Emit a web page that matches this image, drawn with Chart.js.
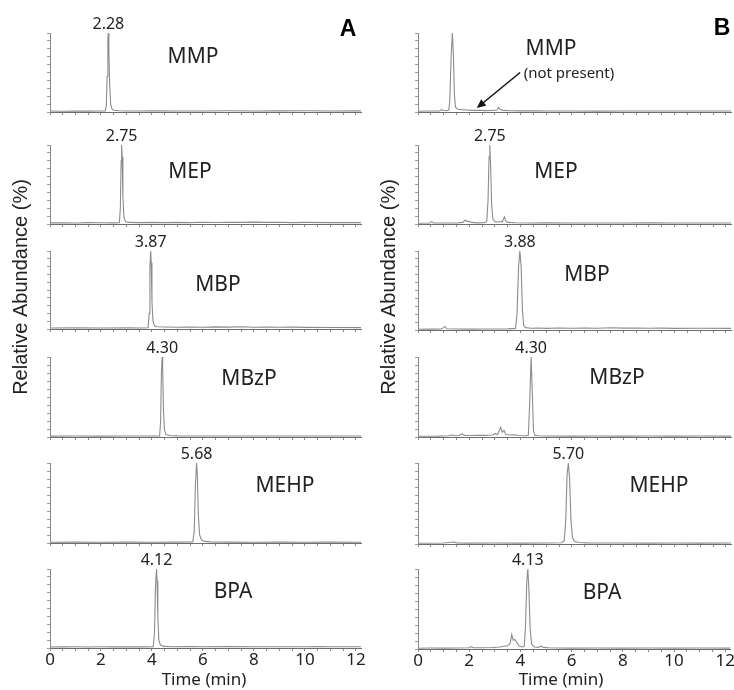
<!DOCTYPE html>
<html>
<head>
<meta charset="utf-8">
<script src="https://cdn.jsdelivr.net/npm/chart.js@4.4.1/dist/chart.umd.min.js"></script>
<style>
  html, body { margin: 0; padding: 0; background: #fff; }
  #wrap { position: relative; width: 734px; height: 690px; overflow: hidden; }
  #wrap canvas { position: absolute; left: 0; top: 0; }
</style>
</head>
<body>
<div id="wrap"></div>
<script>
// compounds, one panel each, top to bottom
const compounds = ['MMP', 'MEP', 'MBP', 'MBzP', 'MEHP', 'BPA'];
const peakLabelsA = ['2.28', '2.75', '3.87', '4.30', '5.68', '4.12'];
const peakLabelsB = [null, '2.75', '3.88', '4.30', '5.70', '4.13'];
const timeTicks = [0, 2, 4, 6, 8, 10, 12];

// chromatogram traces: [time (min), relative abundance (%)]
const A_MMP = [[0,1.2],[0.5,1.0],[1,1.3],[1.5,1.1],[2,1.2],[2.17,1.2],[2.21,8],[2.24,45],[2.27,92],[2.29,100],[2.31,80],[2.34,35],[2.38,10],[2.43,4],[2.5,2.2],[2.7,1.5],[3,1.3],[3.5,1.2],[4,1.4],[5,1.2],[6,1.3],[7,1.5],[8,1.3],[9,1.4],[10,1.6],[11,1.3],[12.2,1.4]];
const A_MEP = [[0,1.4],[0.5,1.6],[1,1.3],[1.5,1.7],[2,1.5],[2.5,1.4],[2.72,1.5],[2.76,20],[2.79,80],[2.81,100],[2.83,85],[2.86,35],[2.9,9],[2.96,3],[3.1,2],[3.5,1.8],[4,2],[4.5,1.7],[5,2.1],[5.5,1.8],[6,2.2],[6.5,1.9],[7,2.3],[7.5,2.0],[8,2.4],[8.5,2.0],[9,2.2],[9.5,1.8],[10,2.0],[11,1.8],[12.2,1.7]];
const A_MBP = [[0,1.2],[1,1.4],[2,1.2],[3,1.4],[3.6,1.3],[3.85,1.5],[3.89,20],[3.92,80],[3.95,100],[3.97,85],[4.0,35],[4.04,10],[4.1,4],[4.2,2.8],[4.5,2.5],[5,2.2],[5.5,2.6],[6,2.3],[6.5,2.7],[7,2.4],[7.5,2.8],[8,2.3],[8.5,2.5],[9,2.2],[9.5,2.4],[10,2.1],[11,2.0],[12.2,1.8]];
const A_MBzP = [[0,1.1],[1,1.2],[2,1.1],[3,1.3],[4,1.2],[4.3,1.3],[4.34,20],[4.37,80],[4.40,100],[4.42,85],[4.45,35],[4.49,9],[4.55,3],[4.7,1.8],[5,1.4],[6,1.2],[7,1.3],[8,1.2],[9,1.3],[10,1.2],[11,1.2],[12.2,1.2]];
const A_MEHP = [[0,1],[1,1.1],[2,1.0],[3,1.1],[4,1.0],[5,1.1],[5.6,1.2],[5.66,15],[5.7,70],[5.75,100],[5.78,85],[5.82,35],[5.87,10],[5.94,4],[6.05,2],[6.3,1.4],[7,1.1],[8,1.0],[9,1.1],[10,1.0],[11,1.1],[12.2,1.0]];
const A_BPA = [[0,1.2],[0.5,1.4],[1,1.5],[1.5,1.3],[2,1.5],[2.5,1.4],[3,1.6],[3.5,1.4],[4.05,1.5],[4.1,20],[4.14,80],[4.18,100],[4.2,85],[4.23,40],[4.27,10],[4.33,4],[4.45,2],[4.8,1.6],[5.5,1.8],[6,1.5],[7,1.7],[8,1.5],[9,1.6],[10,1.5],[10.5,1.9],[11,1.6],[12.2,1.5]];

const B_MMP = [[0,1],[0.4,1.2],[0.8,1.3],[0.88,2],[0.93,3.2],[0.98,1.8],[1.1,1.5],[1.2,2.5],[1.24,15],[1.29,70],[1.34,100],[1.38,72],[1.42,22],[1.46,6],[1.55,3.5],[1.7,3],[1.9,2.5],[2.1,2],[2.4,2.2],[2.6,1.8],[2.9,2],[3.08,2.5],[3.14,5.8],[3.2,3.5],[3.3,2],[3.6,1.6],[4,1.4],[4.5,1.5],[5,1.2],[6,1.3],[7,1.1],[8,1.3],[9,1.2],[10,1.3],[11,1.2],[12.2,1.2]];
const B_MEP = [[0,1],[0.45,1.2],[0.53,3],[0.6,1.3],[1,1.2],[1.5,1.3],[1.75,2],[1.84,5],[1.92,3],[2.0,3.5],[2.08,2],[2.3,1.4],[2.6,1.5],[2.68,3],[2.73,30],[2.77,85],[2.8,100],[2.83,75],[2.87,25],[2.92,6],[3.0,3],[3.15,2.5],[3.22,3.5],[3.28,2.5],[3.33,6],[3.37,9],[3.42,4],[3.5,2],[3.8,1.5],[4.5,1.3],[5,1.4],[6,1.2],[7,1.3],[8,1.2],[9,1.4],[10,1.2],[11,1.3],[12.2,1.2]];
const B_MBP = [[0,1],[0.5,1.1],[0.9,1.3],[1.0,3],[1.05,4.5],[1.12,1.5],[1.5,1.2],[2,1.1],[2.5,1.3],[3,1.2],[3.5,1.4],[3.8,2],[3.86,20],[3.92,80],[3.97,100],[4.02,80],[4.07,25],[4.12,6],[4.2,3],[4.4,2.2],[4.7,2.5],[5,2],[5.5,2.5],[6,2.2],[6.5,2.6],[7,2.3],[7.5,2.8],[8,2.4],[8.5,2.6],[9,2.2],[9.5,2.4],[10,2.1],[11,2.2],[12.2,2]];
const B_MBzP = [[0,1],[0.8,1.1],[1.2,1.6],[1.33,2.5],[1.45,1.5],[1.6,1.8],[1.72,4],[1.8,2],[2.0,1.8],[2.3,2.2],[2.6,2.0],[2.9,2.5],[3.02,4.5],[3.1,3],[3.22,12],[3.28,6],[3.35,8.5],[3.42,3],[3.6,2.5],[3.79,2.8],[3.9,1.8],[4.2,1.5],[4.3,2],[4.35,40],[4.41,100],[4.46,50],[4.5,8],[4.56,2],[4.7,1.5],[5,1.2],[6,1.1],[7,1.2],[8,1.1],[9,1.2],[10,1.1],[11,1.2],[12.2,1.1]];
const B_MEHP = [[0,1],[1,1.2],[1.4,2.5],[1.5,1.4],[2,1.1],[3,1.2],[4,1.1],[5,1.2],[5.6,1.5],[5.7,4],[5.76,30],[5.81,85],[5.86,100],[5.91,80],[5.96,30],[6.02,8],[6.1,3],[6.3,1.8],[6.6,1.4],[7,1.2],[8,1.3],[9,1.1],[10,1.3],[11,1.1],[12.2,1.2]];
const B_BPA = [[0,1],[0.5,1.2],[1,1.1],[1.5,1.3],[2.0,1.5],[2.08,3],[2.15,1.6],[2.5,1.5],[2.9,1.8],[3.2,2.5],[3.35,3.5],[3.5,4],[3.6,7],[3.66,18],[3.72,11],[3.78,12],[3.86,8],[3.95,4],[4.05,2.5],[4.15,3],[4.2,30],[4.25,85],[4.29,100],[4.33,75],[4.38,25],[4.44,6],[4.55,2.5],[4.7,2],[4.82,3.5],[4.9,2],[5.1,1.5],[5.5,1.2],[6,1.1],[7,1.2],[8,1.1],[9,1.2],[10,1.1],[11,1.2],[12.2,1.1]];

// "not present" arrow in panel B/MMP, in data units: from -> to
const arrowFrom = { x: 3.98, y: 50 };
const arrowTo = { x: 2.29, y: 5 };

// page layout (pixels)
const panelTops = [33, 145, 251, 357, 463, 569];
const columns = [
  {
    letter: 'A', traces: [A_MMP, A_MEP, A_MBP, A_MBzP, A_MEHP, A_BPA], peaks: peakLabelsA,
    axisX: 50, rightX: 361, bases: [112, 224, 329, 437, 543, 648],
    letterPos: [348, 30], yTitleX: 21, xTitleX: 204,
    names: [[193, 57], [190, 172], [218, 285], [249, 379], [285, 486], [233, 592]]
  },
  {
    letter: 'B', traces: [B_MMP, B_MEP, B_MBP, B_MBzP, B_MEHP, B_BPA], peaks: peakLabelsB,
    axisX: 418, rightX: 731, bases: [112, 224, 330, 437, 544, 649],
    letterPos: [722, 29], yTitleX: 389, xTitleX: 561,
    names: [[551, 49], [556, 172], [587, 275], [617, 378], [659, 486], [602, 593]]
  }
];

const W = 734, H = 690;
const TXT = '#222';
const FONT = '"Noto Sans", sans-serif';

function textPlugin(col, i) {
  return {
    id: 'panelText',
    afterDraw(chart) {
      const { ctx, chartArea, scales } = chart;
      const trace = col.traces[i];
      ctx.save();
      ctx.fillStyle = TXT;
      ctx.textAlign = 'center';
      ctx.textBaseline = 'middle';

      // retention time over the apex
      const label = col.peaks[i];
      if (label) {
        let apex = trace[0];
        trace.forEach(p => { if (p[1] > apex[1]) apex = p; });
        ctx.font = '16px ' + FONT;
        ctx.fillText(label, scales.x.getPixelForValue(apex[0]), chartArea.top - 9);
      }

      ctx.font = '21px ' + FONT;
      ctx.fillText(compounds[i], col.names[i][0], col.names[i][1]);

      if (col.letter === 'B' && i === 0) {
        ctx.font = '15px ' + FONT;
        ctx.fillText('(not present)', 569, 74);
        const x0 = scales.x.getPixelForValue(arrowFrom.x), y0 = scales.y.getPixelForValue(arrowFrom.y);
        const x1 = scales.x.getPixelForValue(arrowTo.x), y1 = scales.y.getPixelForValue(arrowTo.y);
        const a = Math.atan2(y1 - y0, x1 - x0);
        ctx.strokeStyle = '#111';
        ctx.lineWidth = 1.5;
        ctx.beginPath();
        ctx.moveTo(x0, y0);
        ctx.lineTo(x1 - 6 * Math.cos(a), y1 - 6 * Math.sin(a));
        ctx.stroke();
        ctx.fillStyle = '#111';
        ctx.beginPath();
        ctx.moveTo(x1, y1);
        ctx.lineTo(x1 - 9 * Math.cos(a) + 4 * Math.sin(a), y1 - 9 * Math.sin(a) - 4 * Math.cos(a));
        ctx.lineTo(x1 - 9 * Math.cos(a) - 4 * Math.sin(a), y1 - 9 * Math.sin(a) + 4 * Math.cos(a));
        ctx.closePath();
        ctx.fill();
        ctx.fillStyle = TXT;
      }

      if (i === 0) {
        ctx.font = 'bold 23px "Liberation Sans", Arial, sans-serif';
        ctx.fillStyle = '#000';
        ctx.fillText(col.letter, col.letterPos[0], col.letterPos[1]);
        ctx.fillStyle = TXT;
        ctx.save();
        ctx.translate(col.yTitleX, 287);
        ctx.rotate(-Math.PI / 2);
        ctx.font = '20px "Liberation Sans", Arial, sans-serif';
        ctx.fillText('Relative Abundance (%)', 0, 0);
        ctx.restore();
      }

      if (i === compounds.length - 1) {
        ctx.font = '17px ' + FONT;
        ctx.fillText('Time (min)', col.xTitleX, 680);
      }
      ctx.restore();
    }
  };
}

const wrap = document.getElementById('wrap');

columns.forEach(col => {
  compounds.forEach((name, i) => {
    const canvas = document.createElement('canvas');
    canvas.width = W;
    canvas.height = H;
    wrap.appendChild(canvas);
    const bottom = i === compounds.length - 1;
    const xAxisH = bottom ? 30 : 5;

    new Chart(canvas.getContext('2d'), {
      type: 'line',
      data: {
        datasets: [{
          label: name,
          data: col.traces[i].map(([x, y]) => ({ x, y })),
          borderColor: '#8c8c8c',
          borderWidth: 1.1,
          pointRadius: 0,
          tension: 0,
          fill: false
        }]
      },
      options: {
        responsive: false,
        animation: false,
        events: [],
        layout: {
          autoPadding: false,
          padding: {
            left: col.axisX - 5,
            right: W - col.rightX,
            top: panelTops[i],
            bottom: H - col.bases[i] - xAxisH
          }
        },
        plugins: {
          legend: { display: false },
          tooltip: { enabled: false }
        },
        scales: {
          x: {
            type: 'linear',
            min: 0,
            max: 12.2,
            afterFit: axis => { axis.height = xAxisH; },
            border: { color: '#6e6e6e', width: 1 },
            grid: { drawOnChartArea: false, tickLength: 3, color: '#8a8a8a' },
            ticks: {
              display: bottom,
              stepSize: 0.5,
              includeBounds: false,
              autoSkip: false,
              maxRotation: 0,
              padding: -1,
              color: TXT,
              font: { family: 'Noto Sans', size: 17 },
              callback: v => (timeTicks.includes(v) ? String(v) : '')
            }
          },
          y: {
            min: 0,
            max: 100,
            afterFit: axis => { axis.width = 5; },
            border: { color: '#8a8a8a', width: 1 },
            grid: { drawOnChartArea: false, tickLength: 3, color: '#9a9a9a' },
            ticks: { display: false, stepSize: 10 }
          }
        }
      },
      plugins: [textPlugin(col, i)]
    });
  });
});
</script>
</body>
</html>
